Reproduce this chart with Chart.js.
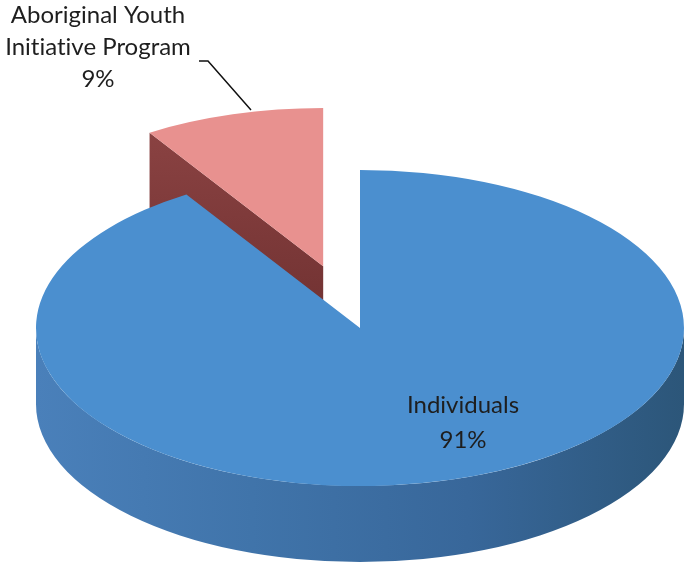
<!DOCTYPE html>
<html>
<head>
<meta charset="utf-8">
<script src="https://cdn.jsdelivr.net/npm/chart.js@4.4.1/dist/chart.umd.min.js"></script>
<style>
  html, body { margin: 0; padding: 0; background: #fff; }
  #wrap { width: 687px; height: 565px; position: relative; }
</style>
</head>
<body>
<div id="wrap"><canvas id="pie"></canvas></div>
<script>
// data
const labels = ['Individuals', ['Aboriginal Youth', 'Initiative Program']];
const values = [91, 9];
const topColors = ['#4b8fcf', '#e8918f'];

// fake 3D: squash the pie, extrude the visible walls, explode the small slice
const pie3d = {
  id: 'pie3d',
  beforeDatasetDraw(chart, args) {
    const ctx = chart.ctx;
    const o = chart.options.plugins.pie3d;
    const arcs = args.meta.data;
    const cx = arcs[0].x, cy = arcs[0].y;
    const d = o.depth / o.squash;
    const midOf = a => (a.startAngle + a.endAngle) / 2;

    ctx.save();
    ctx.translate(o.centerX, o.centerY);
    ctx.scale(1, o.squash);
    ctx.translate(-cx, -cy);

    // back slices first
    const order = arcs.map((a, i) => i).sort((i, j) => Math.sin(midOf(arcs[i])) - Math.sin(midOf(arcs[j])));
    order.forEach(i => {
      const a = arcs[i];
      const mid = midOf(a);
      const ex = o.explode[i] || 0;
      const R = a.outerRadius;
      ctx.save();
      ctx.translate(Math.cos(mid) * ex, Math.sin(mid) * ex);

      // cut faces turned towards the viewer
      [[a.startAngle, -1], [a.endAngle, 1]].forEach(([t, s]) => {
        if (s * Math.cos(t) < 0.01) return;
        const g = ctx.createLinearGradient(0, a.y + R * Math.sin(t), 0, a.y + d);
        g.addColorStop(0, o.faceColors[i][0]);
        g.addColorStop(1, o.faceColors[i][1]);
        ctx.beginPath();
        ctx.moveTo(a.x, a.y);
        ctx.lineTo(a.x + R * Math.cos(t), a.y + R * Math.sin(t));
        ctx.lineTo(a.x + R * Math.cos(t), a.y + R * Math.sin(t) + d);
        ctx.lineTo(a.x, a.y + d);
        ctx.closePath();
        ctx.fillStyle = g;
        ctx.fill();
      });

      // outer wall, front half only
      for (let k = -1; k <= 1; k++) {
        const lo = Math.max(a.startAngle, k * 2 * Math.PI);
        const hi = Math.min(a.endAngle, k * 2 * Math.PI + Math.PI);
        if (hi <= lo) continue;
        const g = ctx.createLinearGradient(a.x - R, 0, a.x + R, 0);
        o.wallColors[i].forEach((c, n, arr) => g.addColorStop(n / (arr.length - 1), c));
        ctx.beginPath();
        ctx.arc(a.x, a.y, R, lo, hi);
        ctx.arc(a.x, a.y + d, R, hi, lo, true);
        ctx.closePath();
        ctx.fillStyle = g;
        ctx.fill();
      }

      a.draw(ctx);
      ctx.restore();
    });

    ctx.restore();
    return false;
  },
  afterDraw(chart) {
    const ctx = chart.ctx;
    const o = chart.options.plugins.pie3d;
    const total = values.reduce((s, v) => s + v, 0);
    ctx.save();
    ctx.font = o.font;
    if ('textRendering' in ctx) ctx.textRendering = 'optimizeSpeed';
    ctx.fillStyle = o.textColor;
    ctx.textAlign = 'center';
    ctx.textBaseline = 'alphabetic';
    chart.data.labels.forEach((lab, i) => {
      const lines = [].concat(lab, Math.round(values[i] / total * 100) + '%');
      const p = o.labelPos[i];
      lines.forEach((t, n) => ctx.fillText(t, p.x, p.y + n * p.lh));
    });
    // leader line for the small slice
    ctx.strokeStyle = '#111';
    ctx.lineWidth = 1.5;
    ctx.beginPath();
    o.leader.forEach((pt, n) => n ? ctx.lineTo(pt[0], pt[1]) : ctx.moveTo(pt[0], pt[1]));
    ctx.stroke();
    ctx.restore();
  }
};

new Chart(document.getElementById('pie'), {
  type: 'pie',
  data: {
    labels: labels,
    datasets: [{
      data: values,
      backgroundColor: topColors,
      borderWidth: 0
    }]
  },
  options: {
    responsive: true,
    maintainAspectRatio: false,
    animation: false,
    events: [],
    radius: 324,
    layout: { padding: 0 },
    plugins: {
      legend: { display: false },
      tooltip: { enabled: false },
      pie3d: {
        centerX: 360,
        centerY: 328,
        squash: 0.488,
        depth: 76,
        explode: [0, 132],
        faceColors: [['#3a6fa6', '#3a6fa6'], ['#8a4242', '#6e3030']],
        wallColors: [['#4a80ba', '#4074aa', '#38679a', '#2c5679'], ['#7a3838', '#7a3838']],
        font: '24px Lato',
        textColor: '#1e1e1e',
        labelPos: [{ x: 463, y: 413, lh: 35 }, { x: 98, y: 23, lh: 32 }],
        leader: [[199, 61], [208, 61], [251, 110]]
      }
    }
  },
  plugins: [pie3d]
});
</script>
</body>
</html>
